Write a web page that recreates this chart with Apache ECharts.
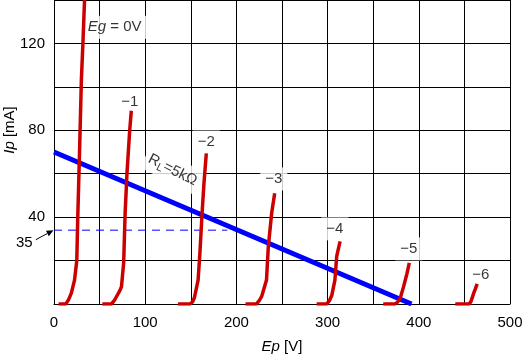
<!DOCTYPE html>
<html><head><meta charset="utf-8">
<script src="https://cdn.jsdelivr.net/npm/echarts@6/dist/echarts.min.js"></script>
<style>html,body{margin:0;padding:0;background:#fff}#c{width:522px;height:357px}</style>
</head><body><div id="c"></div>
<script>
// Plate characteristic curves (Ep [V], Ip [mA]) for each grid voltage Eg
const gridVoltages = ['0', '-1', '-2', '-3', '-4', '-5', '-6'];
const curveEg0 = [[5,0],[13,0],[16,2],[19,5],[22.5,11],[25,20],[26,39],[28,70],[30,103],[31.7,120],[33.5,140],[34,150]];
const curveEg1 = [[53,0],[63,0],[66,1.5],[68,3],[72,6],[74,8],[76.4,19],[78,42],[80,60],[83,80],[84.8,89]];
const curveEg2 = [[136,0],[149,0],[152,1],[154,3],[158,11],[160,23.6],[162.4,42],[164.5,56],[167,69.4]];
const curveEg3 = [[210,0],[222,0],[225,1.5],[227.7,3.5],[233,11],[235,26.5],[238.7,42],[242,51]];
const curveEg4 = [[288,0],[299,0],[302,1.5],[304.6,4],[308,11],[310,22],[313.7,28.8]];
const curveEg5 = [[361,0],[374,0],[377,1],[379.7,2.8],[383.3,8],[387,14],[389.6,18.9]];
const curveEg6 = [[440,0],[455,0],[457,1],[458.5,2.8],[460.2,5],[462,7],[464,9.3]];
// Load line RL = 5kΩ
const loadLine = [[0,70],[392,0]];
// Operating current line
const opCurrent = [[0,34],[190,34]];
const opLabel = '35';
// Tick labels
const xTickLabels = [0,100,200,300,400,500];
const yTickLabels = [40,80,120];
// Curve annotations: [x, y, text]
const curveLabels = [
  [66.5,127.5,'{i|Eg} = 0V'],
  [83,93,'\u22121'],
  [167,74.6,'\u22122'],
  [241,57.6,'\u22123'],
  [308,34.6,'\u22124'],
  [389,25.4,'\u22125'],
  [468,13.2,'\u22126']
];
const loadLabel = [130,61.7,'R{s|L}=5k\u03A9'];

const FONT = 'Liberation Sans';
const FS = 15;
const chart = echarts.init(document.getElementById('c'));
const curves = [curveEg0,curveEg1,curveEg2,curveEg3,curveEg4,curveEg5,curveEg6];
const rich = {
  i: {fontStyle:'italic', fontFamily:FONT, fontSize:FS, color:'#000'},
  s: {fontFamily:FONT, fontSize:11, color:'#000', verticalAlign:'bottom', padding:[8,0,0,0]}
};
const series = [];
series.push({
  type:'scatter', symbolSize:0, z:2, silent:true,
  data: curveLabels.map(d=>({value:[d[0],d[1]], name:d[2]})),
  label:{show:true, position:'inside', formatter:p=>p.name, color:'#000', fontFamily:FONT, fontSize:FS,
    backgroundColor:'#fff', padding:[4,5], rich:rich}
});
series.push({
  type:'scatter', symbolSize:0, z:2, silent:true,
  data:[{value:[loadLabel[0],loadLabel[1]], name:loadLabel[2]}],
  label:{show:true, position:'inside', formatter:p=>p.name, rotate:-27, color:'#000', fontFamily:FONT, fontSize:15,
    backgroundColor:'#fff', padding:[3,4], rich:rich}
});
series.push({type:'line', data:opCurrent, showSymbol:false, z:3, silent:true,
  lineStyle:{color:'#0000ff', width:1, type:[8,6]}});
series.push({type:'line', data:loadLine, showSymbol:false, z:4, silent:true,
  lineStyle:{color:'#0000ff', width:5}});
curves.forEach((c,i)=>series.push({type:'line', name:gridVoltages[i], data:c, showSymbol:false, z:5, silent:true,
  lineStyle:{color:'#cc0000', width:3.5}}));

chart.setOption({
  animation:false,
  grid:{left:54, right:12, top:0, bottom:53, show:false, containLabel:false, outerBoundsMode:'none'},
  xAxis:{type:'value', min:0, max:500, interval:50,
    name:'{i|Ep} [V]', nameLocation:'middle', nameGap:35, nameMoveOverlap:false,
    nameTextStyle:{fontFamily:FONT, fontSize:FS, color:'#000', rich:rich},
    axisLine:{lineStyle:{color:'#000', width:1}}, axisTick:{show:false},
    axisLabel:{fontFamily:FONT, fontSize:FS, color:'#000', margin:11,
      formatter:v=>xTickLabels.includes(v)?String(v):''},
    splitLine:{show:true, lineStyle:{color:'#000', width:1}}},
  yAxis:{type:'value', min:0, max:140, interval:20,
    name:'{i|Ip} [mA]', nameLocation:'middle', nameGap:37, nameMoveOverlap:false,
    nameTextStyle:{fontFamily:FONT, fontSize:FS, color:'#000', rich:rich, padding:[0,0,0,44]},
    axisLine:{show:true, lineStyle:{color:'#000', width:1}}, axisTick:{show:false},
    axisLabel:{fontFamily:FONT, fontSize:FS, color:'#000', margin:9,
      formatter:v=>yTickLabels.includes(v)?String(v):''},
    splitLine:{show:true, lineStyle:{color:'#000', width:1}}},
  series:series
});

// "35" annotation with arrow pointing to the y-axis
const tail = chart.convertToPixel({gridIndex:0}, [-20, 29.6]);
const head = chart.convertToPixel({gridIndex:0}, [-0.5, opCurrent[0][1]]);
const txt = chart.convertToPixel({gridIndex:0}, [-32.5, 28]);
const ang = Math.atan2(head[1]-tail[1], head[0]-tail[0]);
const L = 7, W = 3;
const bx = head[0]-L*Math.cos(ang), by = head[1]-L*Math.sin(ang);
chart.setOption({graphic:[
  {type:'line', shape:{x1:tail[0], y1:tail[1], x2:bx, y2:by}, style:{stroke:'#000', lineWidth:1}, z:10},
  {type:'polygon', shape:{points:[[head[0],head[1]],[bx+W*Math.sin(ang), by-W*Math.cos(ang)],[bx-W*Math.sin(ang), by+W*Math.cos(ang)]]}, style:{fill:'#000'}, z:10},
  {type:'text', x:txt[0], y:txt[1], style:{text:opLabel, fontFamily:FONT, fontSize:FS, fill:'#000', align:'center', verticalAlign:'middle'}, z:10}
]});
</script></body></html>
